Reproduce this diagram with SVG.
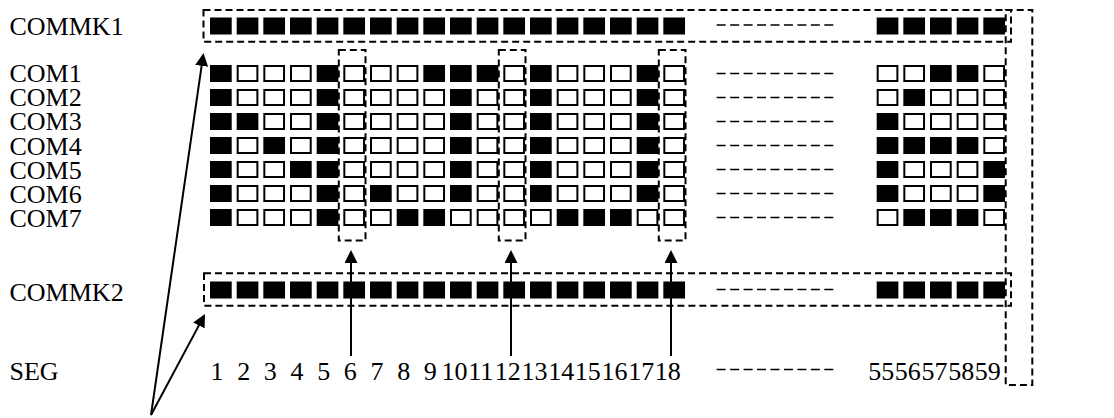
<svg xmlns="http://www.w3.org/2000/svg" width="1114" height="418" viewBox="0 0 1114 418">
<style>
text{font-family:"Liberation Serif","Times New Roman",serif;font-size:26px;fill:#000}
.box{fill:none;stroke:#000;stroke-width:2;stroke-dasharray:7 4}
.dl{stroke:#000;stroke-width:1.6;stroke-dasharray:9 4.45}
.ar{stroke:#000;stroke-width:2;fill:none}
</style>
<defs>
<rect id="b" width="21.7" height="17" fill="#000"/>
<rect id="w" x="1" y="1" width="19.7" height="15" fill="#fff" stroke="#000" stroke-width="2"/>
<marker id="ah" viewBox="0 0 13 13" markerWidth="13" markerHeight="13" refX="10" refY="6.5" orient="auto" markerUnits="userSpaceOnUse"><path d="M0,0 L13,6.5 L0,13 z" fill="#000"/></marker>
</defs>
<rect width="1114" height="418" fill="#fff"/>
<g id="labels" font-family="'Liberation Serif', 'Times New Roman', serif">
<text x="9.5" y="35">COMMK1</text>
<text x="9.5" y="82">COM1</text>
<text x="9.5" y="106.2">COM2</text>
<text x="9.5" y="130.4">COM3</text>
<text x="9.5" y="154.6">COM4</text>
<text x="9.5" y="178.8">COM5</text>
<text x="9.5" y="203">COM6</text>
<text x="9.5" y="227.2">COM7</text>
<text x="9.5" y="301">COMMK2</text>
<text x="9.5" y="380">SEG</text>
</g>
<g id="row-commk1" transform="translate(0,17.5)">
<use href="#b" x="210"/><use href="#b" x="236.67"/><use href="#b" x="263.33"/><use href="#b" x="290"/><use href="#b" x="316.67"/><use href="#b" x="343.33"/><use href="#b" x="370"/><use href="#b" x="396.67"/><use href="#b" x="423.33"/><use href="#b" x="450"/><use href="#b" x="476.67"/><use href="#b" x="503.33"/><use href="#b" x="530"/><use href="#b" x="556.67"/><use href="#b" x="583.33"/><use href="#b" x="610"/><use href="#b" x="636.67"/><use href="#b" x="663.33"/>
<use href="#b" x="876.67"/><use href="#b" x="903.33"/><use href="#b" x="930"/><use href="#b" x="956.67"/><use href="#b" x="983.33"/>
</g>
<g id="row-com1" transform="translate(0,65)">
<use href="#b" x="210"/><use href="#w" x="236.67"/><use href="#w" x="263.33"/><use href="#w" x="290"/><use href="#b" x="316.67"/><use href="#w" x="343.33"/><use href="#w" x="370"/><use href="#w" x="396.67"/><use href="#b" x="423.33"/><use href="#b" x="450"/><use href="#b" x="476.67"/><use href="#w" x="503.33"/><use href="#b" x="530"/><use href="#w" x="556.67"/><use href="#w" x="583.33"/><use href="#w" x="610"/><use href="#b" x="636.67"/><use href="#w" x="663.33"/>
<use href="#w" x="876.67"/><use href="#w" x="903.33"/><use href="#b" x="930"/><use href="#b" x="956.67"/><use href="#w" x="983.33"/>
</g>
<g id="row-com2" transform="translate(0,89)">
<use href="#b" x="210"/><use href="#w" x="236.67"/><use href="#w" x="263.33"/><use href="#w" x="290"/><use href="#b" x="316.67"/><use href="#w" x="343.33"/><use href="#w" x="370"/><use href="#w" x="396.67"/><use href="#w" x="423.33"/><use href="#b" x="450"/><use href="#w" x="476.67"/><use href="#w" x="503.33"/><use href="#b" x="530"/><use href="#w" x="556.67"/><use href="#w" x="583.33"/><use href="#w" x="610"/><use href="#b" x="636.67"/><use href="#w" x="663.33"/>
<use href="#w" x="876.67"/><use href="#b" x="903.33"/><use href="#w" x="930"/><use href="#w" x="956.67"/><use href="#w" x="983.33"/>
</g>
<g id="row-com3" transform="translate(0,113)">
<use href="#b" x="210"/><use href="#b" x="236.67"/><use href="#w" x="263.33"/><use href="#w" x="290"/><use href="#b" x="316.67"/><use href="#w" x="343.33"/><use href="#w" x="370"/><use href="#w" x="396.67"/><use href="#w" x="423.33"/><use href="#b" x="450"/><use href="#w" x="476.67"/><use href="#w" x="503.33"/><use href="#b" x="530"/><use href="#w" x="556.67"/><use href="#w" x="583.33"/><use href="#w" x="610"/><use href="#b" x="636.67"/><use href="#w" x="663.33"/>
<use href="#b" x="876.67"/><use href="#w" x="903.33"/><use href="#w" x="930"/><use href="#w" x="956.67"/><use href="#w" x="983.33"/>
</g>
<g id="row-com4" transform="translate(0,137)">
<use href="#b" x="210"/><use href="#w" x="236.67"/><use href="#b" x="263.33"/><use href="#w" x="290"/><use href="#b" x="316.67"/><use href="#w" x="343.33"/><use href="#w" x="370"/><use href="#w" x="396.67"/><use href="#w" x="423.33"/><use href="#b" x="450"/><use href="#w" x="476.67"/><use href="#w" x="503.33"/><use href="#b" x="530"/><use href="#w" x="556.67"/><use href="#w" x="583.33"/><use href="#w" x="610"/><use href="#b" x="636.67"/><use href="#w" x="663.33"/>
<use href="#b" x="876.67"/><use href="#b" x="903.33"/><use href="#b" x="930"/><use href="#b" x="956.67"/><use href="#w" x="983.33"/>
</g>
<g id="row-com5" transform="translate(0,161)">
<use href="#b" x="210"/><use href="#w" x="236.67"/><use href="#w" x="263.33"/><use href="#b" x="290"/><use href="#b" x="316.67"/><use href="#w" x="343.33"/><use href="#w" x="370"/><use href="#w" x="396.67"/><use href="#w" x="423.33"/><use href="#b" x="450"/><use href="#w" x="476.67"/><use href="#w" x="503.33"/><use href="#b" x="530"/><use href="#w" x="556.67"/><use href="#w" x="583.33"/><use href="#w" x="610"/><use href="#b" x="636.67"/><use href="#w" x="663.33"/>
<use href="#b" x="876.67"/><use href="#w" x="903.33"/><use href="#w" x="930"/><use href="#w" x="956.67"/><use href="#b" x="983.33"/>
</g>
<g id="row-com6" transform="translate(0,185)">
<use href="#b" x="210"/><use href="#w" x="236.67"/><use href="#w" x="263.33"/><use href="#w" x="290"/><use href="#b" x="316.67"/><use href="#w" x="343.33"/><use href="#b" x="370"/><use href="#w" x="396.67"/><use href="#w" x="423.33"/><use href="#b" x="450"/><use href="#w" x="476.67"/><use href="#w" x="503.33"/><use href="#b" x="530"/><use href="#w" x="556.67"/><use href="#w" x="583.33"/><use href="#w" x="610"/><use href="#b" x="636.67"/><use href="#w" x="663.33"/>
<use href="#b" x="876.67"/><use href="#w" x="903.33"/><use href="#w" x="930"/><use href="#w" x="956.67"/><use href="#b" x="983.33"/>
</g>
<g id="row-com7" transform="translate(0,209)">
<use href="#b" x="210"/><use href="#w" x="236.67"/><use href="#w" x="263.33"/><use href="#w" x="290"/><use href="#b" x="316.67"/><use href="#w" x="343.33"/><use href="#w" x="370"/><use href="#b" x="396.67"/><use href="#b" x="423.33"/><use href="#w" x="450"/><use href="#w" x="476.67"/><use href="#w" x="503.33"/><use href="#w" x="530"/><use href="#b" x="556.67"/><use href="#b" x="583.33"/><use href="#b" x="610"/><use href="#w" x="636.67"/><use href="#w" x="663.33"/>
<use href="#w" x="876.67"/><use href="#b" x="903.33"/><use href="#b" x="930"/><use href="#b" x="956.67"/><use href="#w" x="983.33"/>
</g>
<g id="row-commk2" transform="translate(0,281.5)">
<use href="#b" x="210"/><use href="#b" x="236.67"/><use href="#b" x="263.33"/><use href="#b" x="290"/><use href="#b" x="316.67"/><use href="#b" x="343.33"/><use href="#b" x="370"/><use href="#b" x="396.67"/><use href="#b" x="423.33"/><use href="#b" x="450"/><use href="#b" x="476.67"/><use href="#b" x="503.33"/><use href="#b" x="530"/><use href="#b" x="556.67"/><use href="#b" x="583.33"/><use href="#b" x="610"/><use href="#b" x="636.67"/><use href="#b" x="663.33"/>
<use href="#b" x="876.67"/><use href="#b" x="903.33"/><use href="#b" x="930"/><use href="#b" x="956.67"/><use href="#b" x="983.33"/>
</g>
<g id="seg-numbers" font-family="'Liberation Serif', 'Times New Roman', serif">
<text x="210.5" y="380">1</text><text x="237.2" y="380">2</text><text x="263.8" y="380">3</text><text x="290.5" y="380">4</text><text x="317.2" y="380">5</text><text x="343.8" y="380">6</text><text x="370.5" y="380">7</text><text x="397.2" y="380">8</text><text x="423.8" y="380">9</text>
<text x="441.5" y="380">10</text><text x="468.2" y="380">11</text><text x="494.8" y="380">12</text><text x="521.5" y="380">13</text><text x="548.2" y="380">14</text><text x="574.8" y="380">15</text><text x="601.5" y="380">16</text><text x="628.2" y="380">17</text><text x="654.8" y="380">18</text>
<text x="868.2" y="380">55</text><text x="894.8" y="380">56</text><text x="921.5" y="380">57</text><text x="948.2" y="380">58</text><text x="974.8" y="380">59</text>
</g>
<g id="ellipsis-lines">
<line class="dl" x1="716.7" y1="25" x2="833.3" y2="25"/>
<line class="dl" x1="716.7" y1="73.5" x2="833.3" y2="73.5"/>
<line class="dl" x1="716.7" y1="97.5" x2="833.3" y2="97.5"/>
<line class="dl" x1="716.7" y1="121.5" x2="833.3" y2="121.5"/>
<line class="dl" x1="716.7" y1="145.5" x2="833.3" y2="145.5"/>
<line class="dl" x1="716.7" y1="169.5" x2="833.3" y2="169.5"/>
<line class="dl" x1="716.7" y1="193.5" x2="833.3" y2="193.5"/>
<line class="dl" x1="716.7" y1="217.5" x2="833.3" y2="217.5"/>
<line class="dl" x1="716.7" y1="289.5" x2="833.3" y2="289.5"/>
<line class="dl" x1="716.7" y1="369.5" x2="833.3" y2="369.5"/>
</g>
<g id="box-commk1"><rect class="box" x="203.5" y="10" width="807.5" height="31.7"/></g>
<g id="box-commk2"><rect class="box" x="204" y="273.3" width="807" height="32.4"/></g>
<g id="box-seg6"><rect class="box" x="338.8" y="50" width="26.7" height="190.5"/></g>
<g id="box-seg12"><rect class="box" x="498.8" y="50" width="26.7" height="190.5"/></g>
<g id="box-seg18"><rect class="box" x="658.8" y="50" width="26.7" height="190.5"/></g>
<g id="box-right"><rect class="box" x="1005.7" y="10" width="26.6" height="375"/></g>
<g id="connectors">
<line class="ar" x1="351" y1="356" x2="351" y2="253" marker-end="url(#ah)"/>
<line class="ar" x1="511" y1="356" x2="511" y2="253" marker-end="url(#ah)"/>
<line class="ar" x1="671" y1="356" x2="671" y2="253" marker-end="url(#ah)"/>
<line class="ar" x1="151" y1="415" x2="203.07" y2="55.97" marker-end="url(#ah)"/>
<line class="ar" x1="151" y1="415" x2="203.59" y2="316.65" marker-end="url(#ah)"/>
</g>
</svg>
